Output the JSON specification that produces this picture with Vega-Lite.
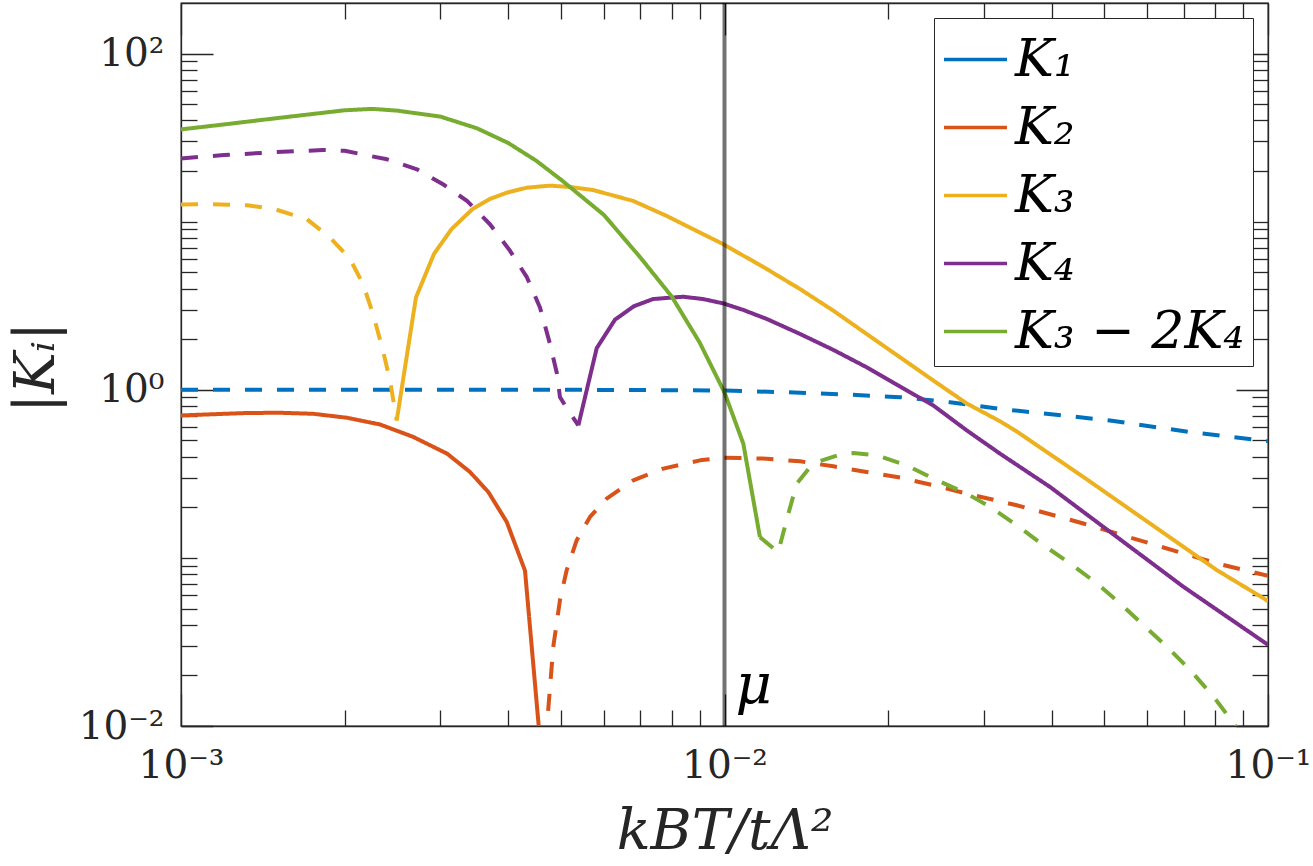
{
  "$schema": "https://vega.github.io/schema/vega-lite/v6.json",
  "width": 1087,
  "height": 723,
  "autosize": {"type": "none"},
  "padding": {"left": 181, "top": 3, "right": 45, "bottom": 140},
  "background": "#ffffff",
  "layer": [
    {
      "data": {
        "values": [
          {"series": "K₁", "part": "K1n", "style": "dash", "x": 0.001, "y": 1.0},
          {"series": "K₁", "part": "K1n", "style": "dash", "x": 0.002, "y": 1.0},
          {"series": "K₁", "part": "K1n", "style": "dash", "x": 0.005, "y": 1.0},
          {"series": "K₁", "part": "K1n", "style": "dash", "x": 0.007, "y": 0.997},
          {"series": "K₁", "part": "K1n", "style": "dash", "x": 0.01, "y": 0.99},
          {"series": "K₁", "part": "K1n", "style": "dash", "x": 0.01377, "y": 0.962},
          {"series": "K₁", "part": "K1n", "style": "dash", "x": 0.0175, "y": 0.931},
          {"series": "K₁", "part": "K1n", "style": "dash", "x": 0.02104, "y": 0.904},
          {"series": "K₁", "part": "K1n", "style": "dash", "x": 0.026, "y": 0.843},
          {"series": "K₁", "part": "K1n", "style": "dash", "x": 0.03213, "y": 0.77},
          {"series": "K₁", "part": "K1n", "style": "dash", "x": 0.0512, "y": 0.657},
          {"series": "K₁", "part": "K1n", "style": "dash", "x": 0.07186, "y": 0.56},
          {"series": "K₁", "part": "K1n", "style": "dash", "x": 0.1, "y": 0.495},

          {"series": "K₂", "part": "K2p", "style": "solid", "x": 0.001, "y": 0.704},
          {"series": "K₂", "part": "K2p", "style": "solid", "x": 0.001323, "y": 0.728},
          {"series": "K₂", "part": "K2p", "style": "solid", "x": 0.001521, "y": 0.73},
          {"series": "K₂", "part": "K2p", "style": "solid", "x": 0.00175, "y": 0.72},
          {"series": "K₂", "part": "K2p", "style": "solid", "x": 0.00202, "y": 0.682},
          {"series": "K₂", "part": "K2p", "style": "solid", "x": 0.002323, "y": 0.622},
          {"series": "K₂", "part": "K2p", "style": "solid", "x": 0.002673, "y": 0.525},
          {"series": "K₂", "part": "K2p", "style": "solid", "x": 0.003087, "y": 0.4171},
          {"series": "K₂", "part": "K2p", "style": "solid", "x": 0.003402, "y": 0.3243},
          {"series": "K₂", "part": "K2p", "style": "solid", "x": 0.003676, "y": 0.2468},
          {"series": "K₂", "part": "K2p", "style": "solid", "x": 0.003975, "y": 0.1637},
          {"series": "K₂", "part": "K2p", "style": "solid", "x": 0.004295, "y": 0.0839},
          {"series": "K₂", "part": "K2p", "style": "solid", "x": 0.004635, "y": 0.00514},
          {"series": "K₂", "part": "K2n", "style": "dash", "x": 0.004635, "y": 0.00514},
          {"series": "K₂", "part": "K2n", "style": "dash", "x": 0.004842, "y": 0.0297},
          {"series": "K₂", "part": "K2n", "style": "dash", "x": 0.004981, "y": 0.0562},
          {"series": "K₂", "part": "K2n", "style": "dash", "x": 0.005125, "y": 0.0847},
          {"series": "K₂", "part": "K2n", "style": "dash", "x": 0.005347, "y": 0.1275},
          {"series": "K₂", "part": "K2n", "style": "dash", "x": 0.005656, "y": 0.1753},
          {"series": "K₂", "part": "K2n", "style": "dash", "x": 0.00607, "y": 0.2254},
          {"series": "K₂", "part": "K2n", "style": "dash", "x": 0.006794, "y": 0.2895},
          {"series": "K₂", "part": "K2n", "style": "dash", "x": 0.007716, "y": 0.3398},
          {"series": "K₂", "part": "K2n", "style": "dash", "x": 0.009015, "y": 0.3805},
          {"series": "K₂", "part": "K2n", "style": "dash", "x": 0.009949, "y": 0.3948},
          {"series": "K₂", "part": "K2n", "style": "dash", "x": 0.01196, "y": 0.3895},
          {"series": "K₂", "part": "K2n", "style": "dash", "x": 0.01377, "y": 0.3753},
          {"series": "K₂", "part": "K2n", "style": "dash", "x": 0.01586, "y": 0.3505},
          {"series": "K₂", "part": "K2n", "style": "dash", "x": 0.01826, "y": 0.3243},
          {"series": "K₂", "part": "K2n", "style": "dash", "x": 0.02104, "y": 0.3005},
          {"series": "K₂", "part": "K2n", "style": "dash", "x": 0.02422, "y": 0.2704},
          {"series": "K₂", "part": "K2n", "style": "dash", "x": 0.02791, "y": 0.2414},
          {"series": "K₂", "part": "K2n", "style": "dash", "x": 0.03448, "y": 0.2057},
          {"series": "K₂", "part": "K2n", "style": "dash", "x": 0.03972, "y": 0.1819},
          {"series": "K₂", "part": "K2n", "style": "dash", "x": 0.04574, "y": 0.1602},
          {"series": "K₂", "part": "K2n", "style": "dash", "x": 0.05268, "y": 0.1397},
          {"series": "K₂", "part": "K2n", "style": "dash", "x": 0.06067, "y": 0.1219},
          {"series": "K₂", "part": "K2n", "style": "dash", "x": 0.06985, "y": 0.1063},
          {"series": "K₂", "part": "K2n", "style": "dash", "x": 0.08047, "y": 0.0928},
          {"series": "K₂", "part": "K2n", "style": "dash", "x": 0.1, "y": 0.0783},

          {"series": "K₃", "part": "K3n", "style": "dash", "x": 0.001, "y": 12.67},
          {"series": "K₃", "part": "K3n", "style": "dash", "x": 0.001145, "y": 12.7},
          {"series": "K₃", "part": "K3n", "style": "dash", "x": 0.001323, "y": 12.53},
          {"series": "K₃", "part": "K3n", "style": "dash", "x": 0.001477, "y": 11.96},
          {"series": "K₃", "part": "K3n", "style": "dash", "x": 0.001705, "y": 10.35},
          {"series": "K₃", "part": "K3n", "style": "dash", "x": 0.00188, "y": 8.05},
          {"series": "K₃", "part": "K3n", "style": "dash", "x": 0.002046, "y": 6.01},
          {"series": "K₃", "part": "K3n", "style": "dash", "x": 0.002162, "y": 4.26},
          {"series": "K₃", "part": "K3n", "style": "dash", "x": 0.002256, "y": 2.825},
          {"series": "K₃", "part": "K3n", "style": "dash", "x": 0.002353, "y": 1.711},
          {"series": "K₃", "part": "K3n", "style": "dash", "x": 0.002424, "y": 1.136},
          {"series": "K₃", "part": "K3n", "style": "dash", "x": 0.002494, "y": 0.657},
          {"series": "K₃", "part": "K3p", "style": "solid", "x": 0.002494, "y": 0.657},
          {"series": "K₃", "part": "K3p", "style": "solid", "x": 0.002706, "y": 3.544},
          {"series": "K₃", "part": "K3p", "style": "solid", "x": 0.002921, "y": 6.44},
          {"series": "K₃", "part": "K3p", "style": "solid", "x": 0.003148, "y": 9.06},
          {"series": "K₃", "part": "K3p", "style": "solid", "x": 0.003441, "y": 11.91},
          {"series": "K₃", "part": "K3p", "style": "solid", "x": 0.003702, "y": 13.65},
          {"series": "K₃", "part": "K3p", "style": "solid", "x": 0.003975, "y": 14.88},
          {"series": "K₃", "part": "K3p", "style": "solid", "x": 0.004326, "y": 15.94},
          {"series": "K₃", "part": "K3p", "style": "solid", "x": 0.004774, "y": 16.38},
          {"series": "K₃", "part": "K3p", "style": "solid", "x": 0.005197, "y": 16.09},
          {"series": "K₃", "part": "K3p", "style": "solid", "x": 0.005728, "y": 15.44},
          {"series": "K₃", "part": "K3p", "style": "solid", "x": 0.006794, "y": 13.29},
          {"series": "K₃", "part": "K3p", "style": "solid", "x": 0.007828, "y": 10.82},
          {"series": "K₃", "part": "K3p", "style": "solid", "x": 0.009015, "y": 8.61},
          {"series": "K₃", "part": "K3p", "style": "solid", "x": 0.009949, "y": 7.35},
          {"series": "K₃", "part": "K3p", "style": "solid", "x": 0.01196, "y": 5.23},
          {"series": "K₃", "part": "K3p", "style": "solid", "x": 0.01377, "y": 3.976},
          {"series": "K₃", "part": "K3p", "style": "solid", "x": 0.01586, "y": 2.956},
          {"series": "K₃", "part": "K3p", "style": "solid", "x": 0.01826, "y": 2.149},
          {"series": "K₃", "part": "K3p", "style": "solid", "x": 0.02104, "y": 1.561},
          {"series": "K₃", "part": "K3p", "style": "solid", "x": 0.02422, "y": 1.136},
          {"series": "K₃", "part": "K3p", "style": "solid", "x": 0.02791, "y": 0.829},
          {"series": "K₃", "part": "K3p", "style": "solid", "x": 0.03213, "y": 0.65},
          {"series": "K₃", "part": "K3p", "style": "solid", "x": 0.03448, "y": 0.5655},
          {"series": "K₃", "part": "K3p", "style": "solid", "x": 0.04574, "y": 0.303},
          {"series": "K₃", "part": "K3p", "style": "solid", "x": 0.06067, "y": 0.1602},
          {"series": "K₃", "part": "K3p", "style": "solid", "x": 0.08047, "y": 0.0847},
          {"series": "K₃", "part": "K3p", "style": "solid", "x": 0.1, "y": 0.0554},

          {"series": "K₄", "part": "K4n", "style": "dash", "x": 0.001, "y": 23.8},
          {"series": "K₄", "part": "K4n", "style": "dash", "x": 0.0012, "y": 24.9},
          {"series": "K₄", "part": "K4n", "style": "dash", "x": 0.0015, "y": 25.96},
          {"series": "K₄", "part": "K4n", "style": "dash", "x": 0.001825, "y": 26.7},
          {"series": "K₄", "part": "K4n", "style": "dash", "x": 0.002, "y": 26.4},
          {"series": "K₄", "part": "K4n", "style": "dash", "x": 0.002393, "y": 23.5},
          {"series": "K₄", "part": "K4n", "style": "dash", "x": 0.002718, "y": 20.5},
          {"series": "K₄", "part": "K4n", "style": "dash", "x": 0.003034, "y": 16.7},
          {"series": "K₄", "part": "K4n", "style": "dash", "x": 0.003359, "y": 13.3},
          {"series": "K₄", "part": "K4n", "style": "dash", "x": 0.003702, "y": 9.66},
          {"series": "K₄", "part": "K4n", "style": "dash", "x": 0.004031, "y": 6.71},
          {"series": "K₄", "part": "K4n", "style": "dash", "x": 0.004331, "y": 4.66},
          {"series": "K₄", "part": "K4n", "style": "dash", "x": 0.004576, "y": 3.09},
          {"series": "K₄", "part": "K4n", "style": "dash", "x": 0.004774, "y": 1.875},
          {"series": "K₄", "part": "K4n", "style": "dash", "x": 0.004918, "y": 1.245},
          {"series": "K₄", "part": "K4n", "style": "dash", "x": 0.004981, "y": 0.904},
          {"series": "K₄", "part": "K4n", "style": "dash", "x": 0.005131, "y": 0.774},
          {"series": "K₄", "part": "K4n", "style": "dash", "x": 0.005383, "y": 0.614},
          {"series": "K₄", "part": "K4p", "style": "solid", "x": 0.005383, "y": 0.614},
          {"series": "K₄", "part": "K4p", "style": "solid", "x": 0.00582, "y": 1.77},
          {"series": "K₄", "part": "K4p", "style": "solid", "x": 0.006288, "y": 2.614},
          {"series": "K₄", "part": "K4p", "style": "solid", "x": 0.006814, "y": 3.143},
          {"series": "K₄", "part": "K4p", "style": "solid", "x": 0.007387, "y": 3.467},
          {"series": "K₄", "part": "K4p", "style": "solid", "x": 0.008387, "y": 3.578},
          {"series": "K₄", "part": "K4p", "style": "solid", "x": 0.00913, "y": 3.467},
          {"series": "K₄", "part": "K4p", "style": "solid", "x": 0.009949, "y": 3.265},
          {"series": "K₄", "part": "K4p", "style": "solid", "x": 0.01083, "y": 2.985},
          {"series": "K₄", "part": "K4p", "style": "solid", "x": 0.01196, "y": 2.639},
          {"series": "K₄", "part": "K4p", "style": "solid", "x": 0.01377, "y": 2.149},
          {"series": "K₄", "part": "K4p", "style": "solid", "x": 0.01586, "y": 1.727},
          {"series": "K₄", "part": "K4p", "style": "solid", "x": 0.01826, "y": 1.362},
          {"series": "K₄", "part": "K4p", "style": "solid", "x": 0.02104, "y": 1.046},
          {"series": "K₄", "part": "K4p", "style": "solid", "x": 0.02422, "y": 0.807},
          {"series": "K₄", "part": "K4p", "style": "solid", "x": 0.02791, "y": 0.5734},
          {"series": "K₄", "part": "K4p", "style": "solid", "x": 0.03213, "y": 0.4171},
          {"series": "K₄", "part": "K4p", "style": "solid", "x": 0.03972, "y": 0.2642},
          {"series": "K₄", "part": "K4p", "style": "solid", "x": 0.05268, "y": 0.1334},
          {"series": "K₄", "part": "K4p", "style": "solid", "x": 0.06985, "y": 0.0674},
          {"series": "K₄", "part": "K4p", "style": "solid", "x": 0.1, "y": 0.0304},

          {"series": "K₃ − 2K₄", "part": "Gp", "style": "solid", "x": 0.001, "y": 35.4},
          {"series": "K₃ − 2K₄", "part": "Gp", "style": "solid", "x": 0.0012, "y": 37.9},
          {"series": "K₃ − 2K₄", "part": "Gp", "style": "solid", "x": 0.0015, "y": 41.3},
          {"series": "K₃ − 2K₄", "part": "Gp", "style": "solid", "x": 0.002, "y": 46.0},
          {"series": "K₃ − 2K₄", "part": "Gp", "style": "solid", "x": 0.00225, "y": 46.9},
          {"series": "K₃ − 2K₄", "part": "Gp", "style": "solid", "x": 0.002497, "y": 45.8},
          {"series": "K₃ − 2K₄", "part": "Gp", "style": "solid", "x": 0.003, "y": 42.2},
          {"series": "K₃ − 2K₄", "part": "Gp", "style": "solid", "x": 0.0035, "y": 36.0},
          {"series": "K₃ − 2K₄", "part": "Gp", "style": "solid", "x": 0.004, "y": 29.4},
          {"series": "K₃ − 2K₄", "part": "Gp", "style": "solid", "x": 0.0045, "y": 23.1},
          {"series": "K₃ − 2K₄", "part": "Gp", "style": "solid", "x": 0.005, "y": 17.8},
          {"series": "K₃ − 2K₄", "part": "Gp", "style": "solid", "x": 0.006, "y": 10.97},
          {"series": "K₃ − 2K₄", "part": "Gp", "style": "solid", "x": 0.007, "y": 6.13},
          {"series": "K₃ − 2K₄", "part": "Gp", "style": "solid", "x": 0.008, "y": 3.58},
          {"series": "K₃ − 2K₄", "part": "Gp", "style": "solid", "x": 0.009, "y": 1.912},
          {"series": "K₃ − 2K₄", "part": "Gp", "style": "solid", "x": 0.01, "y": 0.964},
          {"series": "K₃ − 2K₄", "part": "Gp", "style": "solid", "x": 0.01083, "y": 0.478},
          {"series": "K₃ − 2K₄", "part": "Gp", "style": "solid", "x": 0.01162, "y": 0.1329},
          {"series": "K₃ − 2K₄", "part": "Gn", "style": "dash", "x": 0.01162, "y": 0.1329},
          {"series": "K₃ − 2K₄", "part": "Gn", "style": "dash", "x": 0.01255, "y": 0.1083},
          {"series": "K₃ − 2K₄", "part": "Gn", "style": "dash", "x": 0.01311, "y": 0.1836},
          {"series": "K₃ − 2K₄", "part": "Gn", "style": "dash", "x": 0.01358, "y": 0.2768},
          {"series": "K₃ − 2K₄", "part": "Gn", "style": "dash", "x": 0.01437, "y": 0.3472},
          {"series": "K₃ − 2K₄", "part": "Gn", "style": "dash", "x": 0.01499, "y": 0.377},
          {"series": "K₃ − 2K₄", "part": "Gn", "style": "dash", "x": 0.01654, "y": 0.4171},
          {"series": "K₃ − 2K₄", "part": "Gn", "style": "dash", "x": 0.01726, "y": 0.4205},
          {"series": "K₃ − 2K₄", "part": "Gn", "style": "dash", "x": 0.01906, "y": 0.4074},
          {"series": "K₃ − 2K₄", "part": "Gn", "style": "dash", "x": 0.02164, "y": 0.3553},
          {"series": "K₃ − 2K₄", "part": "Gn", "style": "dash", "x": 0.02422, "y": 0.2963},
          {"series": "K₃ − 2K₄", "part": "Gn", "style": "dash", "x": 0.02791, "y": 0.2414},
          {"series": "K₃ − 2K₄", "part": "Gn", "style": "dash", "x": 0.03081, "y": 0.201},
          {"series": "K₃ − 2K₄", "part": "Gn", "style": "dash", "x": 0.03448, "y": 0.1566},
          {"series": "K₃ − 2K₄", "part": "Gn", "style": "dash", "x": 0.03861, "y": 0.1191},
          {"series": "K₃ − 2K₄", "part": "Gn", "style": "dash", "x": 0.04323, "y": 0.0928},
          {"series": "K₃ − 2K₄", "part": "Gn", "style": "dash", "x": 0.0484, "y": 0.0706},
          {"series": "K₃ − 2K₄", "part": "Gn", "style": "dash", "x": 0.05342, "y": 0.0537},
          {"series": "K₃ − 2K₄", "part": "Gn", "style": "dash", "x": 0.05896, "y": 0.0399},
          {"series": "K₃ − 2K₄", "part": "Gn", "style": "dash", "x": 0.06513, "y": 0.0297},
          {"series": "K₃ − 2K₄", "part": "Gn", "style": "dash", "x": 0.07186, "y": 0.02158},
          {"series": "K₃ − 2K₄", "part": "Gn", "style": "dash", "x": 0.07933, "y": 0.01499},
          {"series": "K₃ − 2K₄", "part": "Gn", "style": "dash", "x": 0.08636, "y": 0.01042},
          {"series": "K₃ − 2K₄", "part": "Gn", "style": "dash", "x": 0.09267, "y": 0.00743}
        ]
      },
      "mark": {"type": "line", "clip": true, "strokeWidth": 4, "strokeCap": "butt", "strokeJoin": "round"},
      "encoding": {
        "x": {
          "field": "x", "type": "quantitative",
          "scale": {"type": "log", "domain": [0.001, 0.1], "nice": false},
          "axis": {
            "orient": "bottom",
            "values": [0.001, 0.002, 0.003, 0.004, 0.005, 0.006, 0.007, 0.008, 0.009, 0.01, 0.02, 0.03, 0.04, 0.05, 0.06, 0.07, 0.08, 0.09, 0.1],
            "labelExpr": "datum.value == 0.001 ? '10⁻³' : datum.value == 0.01 ? '10⁻²' : datum.value == 0.1 ? '10⁻¹' : ''",
            "tickSize": {"condition": {"test": "datum.value == 0.001 || datum.value == 0.01 || datum.value == 0.1", "value": -32}, "value": -16},
            "labelPadding": 52,
            "labelFlush": false,
            "labelOverlap": false,
            "title": "kBT/tΛ²",
            "titleFontSize": 56,
            "titleBaseline": "alphabetic",
            "titleY": 122,
            "titleX": 543.5
          }
        },
        "y": {
          "field": "y", "type": "quantitative",
          "scale": {"type": "log", "domain": [0.01, 200], "nice": false},
          "axis": {
            "orient": "left",
            "values": [0.01, 0.02, 0.03, 0.04, 0.05, 0.06, 0.07, 0.08, 0.09, 0.1, 0.2, 0.3, 0.4, 0.5, 0.6, 0.7, 0.8, 0.9, 1, 2, 3, 4, 5, 6, 7, 8, 9, 10, 20, 30, 40, 50, 60, 70, 80, 90, 100],
            "labelExpr": "datum.value == 0.01 ? '10⁻²' : datum.value == 1 ? '10⁰' : datum.value == 100 ? '10²' : ''",
            "tickSize": {"condition": {"test": "datum.value == 0.01 || datum.value == 1 || datum.value == 100", "value": -32}, "value": -16},
            "labelPadding": 49,
            "labelBaseline": "middle",
            "labelFlush": false,
            "labelOverlap": false,
            "title": "|Kᵢ|",
            "titleFontSize": 56,
            "titleAngle": 270,
            "titleBaseline": "alphabetic",
            "titleAlign": "center",
            "titleX": -128,
            "titleY": 364
          }
        },
        "color": {
          "field": "series", "type": "nominal",
          "scale": {
            "domain": ["K₁", "K₂", "K₃", "K₄", "K₃ − 2K₄"],
            "range": ["#0072BD", "#D95319", "#EDB120", "#7E2F8E", "#77AC30"]
          },
          "legend": {"title": null}
        },
        "strokeDash": {
          "field": "style", "type": "nominal",
          "scale": {"domain": ["solid", "dash"], "range": [[1, 0], [17, 15]]},
          "legend": null
        },
        "detail": {"field": "part", "type": "nominal"}
      }
    },
    {
      "data": {"values": [{"x": 0.01}]},
      "mark": {"type": "rule", "color": "#000000", "opacity": 0.55, "strokeWidth": 4},
      "encoding": {
        "x": {"field": "x", "type": "quantitative", "scale": {"type": "log", "domain": [0.001, 0.1], "nice": false}, "axis": null}
      }
    },
    {
      "data": {"values": [{"x": 0.01, "y": 0.01375, "label": "μ"}]},
      "mark": {"type": "text", "align": "left", "baseline": "alphabetic", "dx": 11, "font": "DejaVu Serif", "fontStyle": "italic", "fontSize": 56, "color": "#000000"},
      "encoding": {
        "x": {
          "field": "x", "type": "quantitative",
          "scale": {"type": "log", "domain": [0.001, 0.1], "nice": false},
          "axis": {
            "orient": "top", "labels": false, "title": null,
            "values": [0.001, 0.002, 0.003, 0.004, 0.005, 0.006, 0.007, 0.008, 0.009, 0.01, 0.02, 0.03, 0.04, 0.05, 0.06, 0.07, 0.08, 0.09, 0.1],
            "tickSize": {"condition": {"test": "datum.value == 0.001 || datum.value == 0.01 || datum.value == 0.1", "value": -32}, "value": -16}
          }
        },
        "y": {
          "field": "y", "type": "quantitative",
          "scale": {"type": "log", "domain": [0.01, 200], "nice": false},
          "axis": {
            "orient": "right", "labels": false, "title": null,
            "values": [0.01, 0.02, 0.03, 0.04, 0.05, 0.06, 0.07, 0.08, 0.09, 0.1, 0.2, 0.3, 0.4, 0.5, 0.6, 0.7, 0.8, 0.9, 1, 2, 3, 4, 5, 6, 7, 8, 9, 10, 20, 30, 40, 50, 60, 70, 80, 90, 100],
            "tickSize": {"condition": {"test": "datum.value == 0.01 || datum.value == 1 || datum.value == 100", "value": -32}, "value": -16}
          }
        },
        "text": {"field": "label", "type": "nominal"}
      }
    }
  ],
  "resolve": {"axis": {"x": "independent", "y": "independent"}},
  "config": {
    "view": {"stroke": "#262626", "strokeWidth": 1.3},
    "axis": {
      "grid": false,
      "domainColor": "#262626",
      "domainWidth": 1.3,
      "tickColor": "#262626",
      "tickWidth": 1.3,
      "labelFont": "DejaVu Serif",
      "labelFontSize": 39,
      "labelColor": "#262626",
      "titleFont": "DejaVu Serif",
      "titleFontStyle": "italic",
      "titleFontWeight": "normal",
      "titleColor": "#262626"
    },
    "legend": {
      "orient": "top-right",
      "offset": 15,
      "symbolType": "stroke",
      "symbolSize": 3969,
      "symbolStrokeWidth": 3.5,
      "labelFont": "DejaVu Serif",
      "labelFontStyle": "italic",
      "labelFontSize": 52,
      "labelColor": "#000000",
      "labelOffset": 6,
      "labelLimit": 400,
      "rowPadding": 8,
      "padding": 8,
      "strokeColor": "#262626",
      "fillColor": "#ffffff"
    }
  }
}
